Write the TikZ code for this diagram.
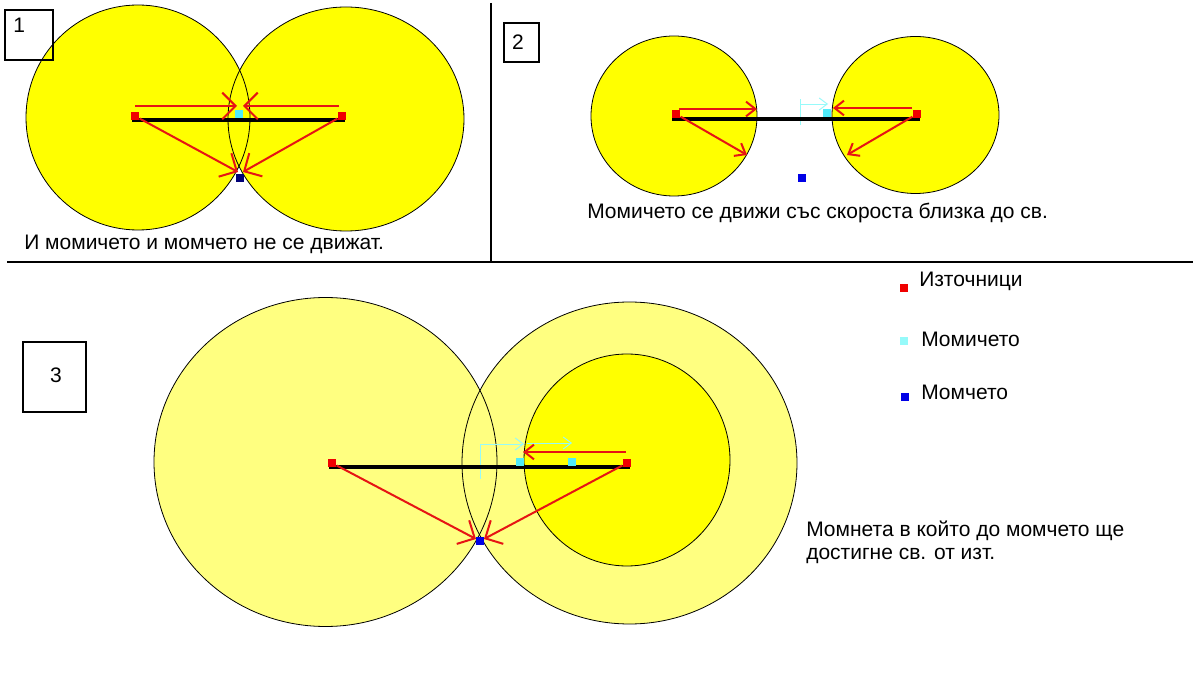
\documentclass[tikz,border=0pt]{standalone}
\usepackage{fontspec}
\setmainfont{Liberation Sans}
\usetikzlibrary{arrows.meta}

\definecolor{wavefull}{RGB}{255,255,0}
\definecolor{wavepale}{RGB}{255,255,128}
\definecolor{srcred}{RGB}{240,0,0}
\definecolor{rayred}{RGB}{230,20,20}
\definecolor{girlcyan}{RGB}{80,235,250}
\definecolor{girltrack}{RGB}{150,250,250}
\definecolor{boyblue}{RGB}{0,0,230}
\definecolor{boynavy}{RGB}{0,0,120}

\begin{document}
\begin{tikzpicture}[x=0.75pt,y=-0.75pt,font=\fontsize{15.75}{17.5}\selectfont]
  \tikzstyle{Wave}=[draw=black,line width=0.6pt]
  \tikzstyle{Src}=[fill=srcred,minimum size=6.5pt,inner sep=0pt]
  \tikzstyle{Girl}=[fill=girlcyan,minimum size=5.6pt,inner sep=0pt]
  \tikzstyle{Boy}=[fill=boyblue,minimum size=5.6pt,inner sep=0pt]
  \tikzstyle{Rod}=[draw=black,line width=2.6pt]
  \tikzstyle{Ray}=[draw=rayred,line width=1.5pt,-{Straight Barb[length=7pt,width=11pt]}]
  \tikzstyle{BigRay}=[Ray,-{Straight Barb[length=10pt,width=20pt]}]
  \tikzstyle{Track}=[draw=girltrack,line width=0.7pt,-{Straight Barb[length=6pt,width=9pt]}]
  \tikzstyle{NumBox}=[draw=black,line width=2.2pt]
  \tikzstyle{Caption}=[anchor=base west,inner sep=0pt]
  \fill[white] (0,0) rectangle (1197,673);
  \useasboundingbox (0,0) rectangle (1197,673);
  % separators
  \coordinate (sepT) at (491,3);
  \coordinate (sepB) at (491,261);
  \coordinate (sepL) at (7,262);
  \coordinate (sepR) at (1193,262);
  \draw[line width=0.8pt] (sepT) -- (sepB);
  \draw[line width=0.8pt] (sepL) -- (sepR);

  % 1
  \fill[wavefull] (138,117.5) ellipse [x radius=112, y radius=112.5];
  \fill[wavefull] (346,119) ellipse [x radius=118, y radius=112];
  \draw[Wave] (138,117.5) ellipse [x radius=112, y radius=112.5];
  \draw[Wave] (346,119) ellipse [x radius=118, y radius=112];
  \draw[NumBox] (5,10) rectangle (53,60);
  \node[Caption] (num1) at (13,33) {1};
  \coordinate (rod1L) at (132,120);
  \coordinate (rod1R) at (345,120);
  \draw[Rod] (rod1L) -- (rod1R);
  \node[Src] (src1L) at (135,116) {};
  \node[Src] (src1R) at (342,116) {};
  \node[Girl] (girl1) at (239,114) {};
  \node[Boy,fill=boynavy] (boy1) at (240,178) {};
  \coordinate (top1L) at (135,106);
  \coordinate (top1R) at (339,106);
  \coordinate (hit1L) at (237,106);
  \coordinate (hit1R) at (243,106);
  \coordinate (meet1L) at (238,172);
  \coordinate (meet1R) at (243,172);
  \draw[BigRay] (top1L) -- (hit1L);
  \draw[BigRay] (top1R) -- (hit1R);
  \draw[BigRay] (src1L) -- (meet1L);
  \draw[BigRay] (src1R) -- (meet1R);
  \node[Caption] (cap1) at (24,250) {И момичето и момчето не се движат.};

  % 2
  \fill[wavefull] (674,116) ellipse [x radius=83, y radius=80];
  \fill[wavefull] (915.5,115) ellipse [x radius=83.5, y radius=78.5];
  \draw[Wave] (674,116) ellipse [x radius=83, y radius=80];
  \draw[Wave] (915.5,115) ellipse [x radius=83.5, y radius=78.5];
  \draw[NumBox] (504,23) rectangle (539,62);
  \node (num2) at (518,42.5) {2};
  \coordinate (trk2B) at (800,125);
  \coordinate (trk2T) at (800,99);
  \coordinate (trk2S) at (800,104);
  \coordinate (trk2E) at (828,104);
  \draw[girltrack,line width=0.7pt] (trk2B) -- (trk2T);
  \draw[Track] (trk2S) -- (trk2E);
  \coordinate (rod2L) at (672,119);
  \coordinate (rod2R) at (920,119);
  \draw[Rod] (rod2L) -- (rod2R);
  \node[Src] (src2L) at (676,114) {};
  \node[Src] (src2R) at (917,114) {};
  \node[Girl] (girl2) at (827,113) {};
  \node[Boy] (boy2) at (802,178) {};
  \coordinate (top2L) at (679,109);
  \coordinate (top2R) at (912,108);
  \coordinate (hit2L) at (757,109);
  \coordinate (hit2R) at (833,108);
  \coordinate (low2L) at (747,155);
  \coordinate (low2R) at (847,155);
  \draw[Ray] (top2L) -- (hit2L);
  \draw[Ray] (top2R) -- (hit2R);
  \draw[Ray] (src2L) -- (low2L);
  \draw[Ray] (src2R) -- (low2R);
  \node[Caption] (cap2) at (587,219) {Момичето се движи със скороста близка до св.};

  % 3
  \fill[wavepale] (325.5,462) ellipse [x radius=171.5, y radius=164.5];
  \fill[wavepale] (629.5,463) ellipse [x radius=167.5, y radius=161];
  \draw[Wave] (325.5,462) ellipse [x radius=171.5, y radius=164.5];
  \draw[Wave] (629.5,463) ellipse [x radius=167.5, y radius=161];
  \draw[Wave,fill=wavefull] (627,460) ellipse [x radius=103, y radius=106];
  \draw[NumBox] (23,342) rectangle (86,412);
  \node (num3) at (56,375) {3};
  \coordinate (trk3B) at (480,479);
  \coordinate (trk3C) at (480,444);
  \coordinate (trk3E) at (524,444);
  \coordinate (trk3S) at (527,443);
  \coordinate (trk3F) at (572,443);
  \draw[Track] (trk3B) -- (trk3C) -- (trk3E);
  \draw[Track] (trk3S) -- (trk3F);
  \coordinate (rod3L) at (329,467);
  \coordinate (rod3R) at (630,467);
  \draw[Rod] (rod3L) -- (rod3R);
  \node[Src] (src3L) at (332,463) {};
  \node[Src] (src3R) at (627,463) {};
  \node[Girl] (girl3a) at (520,462) {};
  \node[Girl] (girl3b) at (572,462) {};
  \node[Boy] (boy3) at (480,541) {};
  \coordinate (top3R) at (626,452);
  \coordinate (hit3R) at (523,452);
  \coordinate (meet3L) at (476,539);
  \coordinate (meet3R) at (484,539);
  \draw[Ray] (top3R) -- (hit3R);
  \draw[BigRay] (src3L) -- (meet3L);
  \draw[BigRay] (src3R) -- (meet3R);
  \node[Caption,align=left] (cap3) at (806,560)
    {Момнета в който до момчето ще\\достигне св. от изт.};

  % legend
  \node[Src,minimum size=5.6pt] (keySrc) at (904,288) {};
  \node[Girl,fill=girltrack] (keyGirl) at (904,341) {};
  \node[Boy] (keyBoy) at (905,397) {};
  \node[Caption] (keySrcT) at (919,287) {Източници};
  \node[Caption] (keyGirlT) at (921,347) {Момичето};
  \node[Caption] (keyBoyT) at (921,400) {Момчето};
\end{tikzpicture}
\end{document}
